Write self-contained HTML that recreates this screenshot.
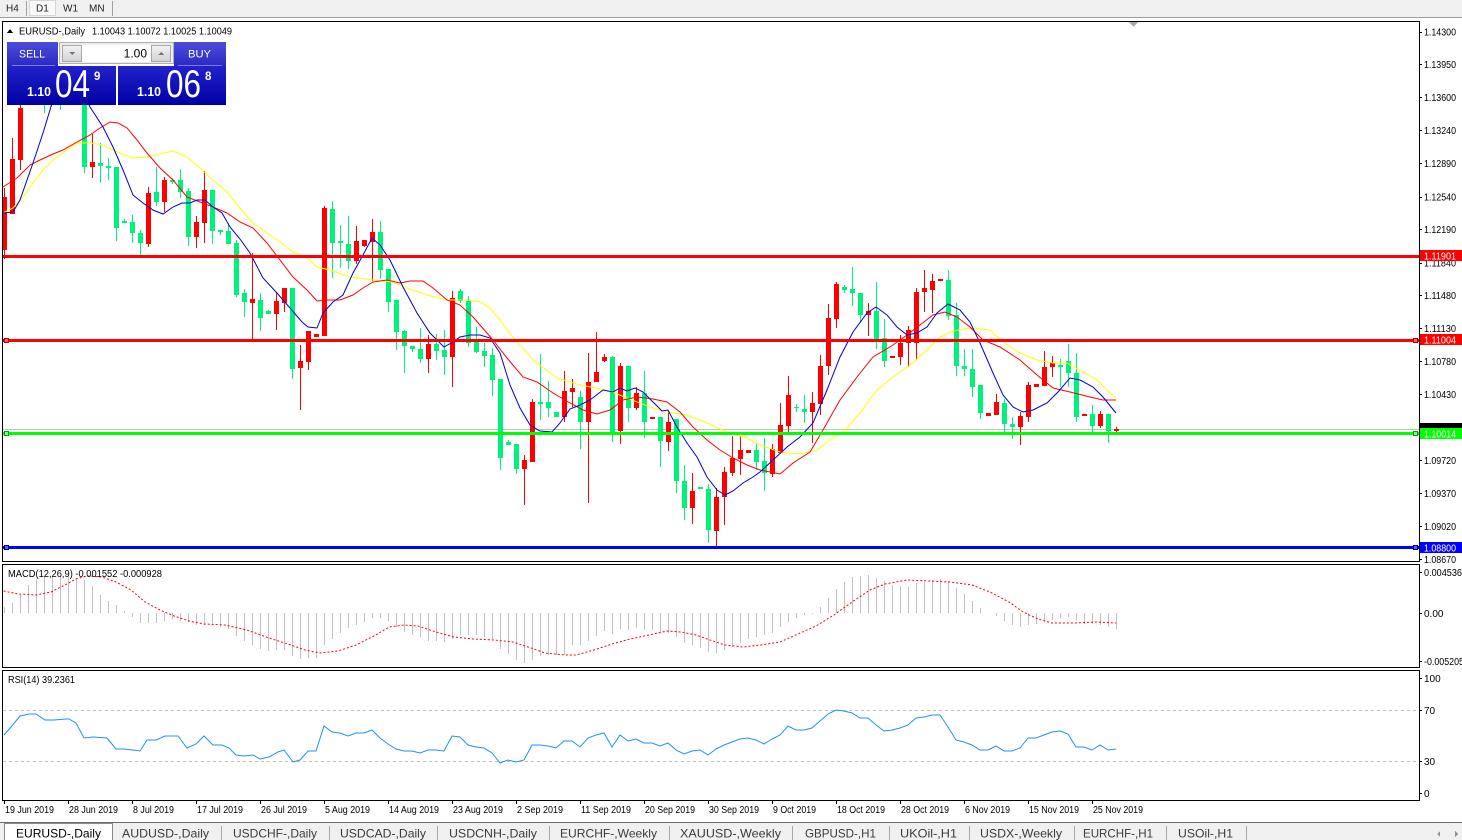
<!DOCTYPE html>
<html><head><meta charset="utf-8"><style>
html,body{margin:0;padding:0;width:1462px;height:840px;overflow:hidden;background:#fff}
svg{display:block}
</style></head><body>
<svg width="1462" height="840" viewBox="0 0 1462 840" xmlns="http://www.w3.org/2000/svg" font-family="'Liberation Sans', Arial, sans-serif" shape-rendering="crispEdges">
<defs>
<linearGradient id="gUp" x1="0" y1="0" x2="0" y2="1"><stop offset="0" stop-color="#4c4cdc"/><stop offset="1" stop-color="#2a2ac4"/></linearGradient>
<linearGradient id="gLo" x1="0" y1="0" x2="0" y2="1"><stop offset="0" stop-color="#2222cc"/><stop offset="1" stop-color="#0000a2"/></linearGradient>
<linearGradient id="gBtn" x1="0" y1="0" x2="0" y2="1"><stop offset="0" stop-color="#f2f2f2"/><stop offset="1" stop-color="#d2d2d2"/></linearGradient>
</defs>
<rect width="1462" height="840" fill="#fff"/>
<!-- toolbar -->
<rect x="0" y="0" width="1462" height="17" fill="#f0f0f0"/>
<line x1="0" y1="17.5" x2="1462" y2="17.5" stroke="#a0a0a0"/>
<rect x="29.5" y="0.5" width="26" height="15" fill="#f8f8f8" stroke="#b8b8b8" stroke-dasharray="1 1"/>
<line x1="26.5" y1="1" x2="26.5" y2="16" stroke="#a0a0a0"/>
<line x1="112.5" y1="1" x2="112.5" y2="16" stroke="#a0a0a0"/>
<g font-size="10" fill="#222">
<text x="6" y="11.5">H4</text><text x="36" y="11.5">D1</text><text x="63" y="11.5">W1</text><text x="89" y="11.5">MN</text>
</g>

<!-- horizontal current price line -->
<line x1="3" y1="429.5" x2="1419" y2="429.5" stroke="#c0c0c0"/>

<!-- candles -->
<path fill="none" stroke="#ff0000" stroke-width="1" d="M4.5 188V259M12.5 138V214M20.5 100V170M28.5 72V104M52.5 72V104M68.5 72V100M92.5 134V178M148.5 187V247M164.5 177V212M196.5 216V248M204.5 171V243M252.5 253V339M276.5 293V330M284.5 288V312M300.5 345V410M308.5 331V370M316.5 334V337M324.5 206V336M356.5 226V264M364.5 240V247M372.5 219V281M428.5 335V373M452.5 291V387M524.5 455V505M532.5 399V462M564.5 371V422M572.5 379V407M588.5 353V503M596.5 332V382M604.5 354V362M620.5 363V444M636.5 387V410M652.5 417V419M668.5 411V451M692.5 473V524M716.5 488V547M724.5 467V525M732.5 436V476M740.5 436V475M748.5 450V453M772.5 444V477M780.5 403V454M788.5 376V432M812.5 392V443M820.5 355V415M828.5 304V375M836.5 282V328M868.5 303V336M892.5 356V358M900.5 335V365M908.5 326V367M916.5 288V360M924.5 270V312M932.5 274V313M940.5 279V281M988.5 413V416M996.5 394V415M1020.5 412V445M1028.5 382V422M1036.5 384V387M1044.5 351V386M1052.5 356V377M1084.5 414V416M1100.5 411V428M1116.5 427V432"/>
<path fill="#ff0000" d="M2 197h5V250h-5ZM10 159h5V214h-5ZM18 108h5V160h-5ZM26 78h5V104h-5ZM50 76h5V100h-5ZM66 74h5V90h-5ZM90 162h5V167h-5ZM146 193h5V244h-5ZM162 180h5V202h-5ZM194 222h5V237h-5ZM202 190h5V223h-5ZM250 299h5V303h-5ZM274 301h5V314h-5ZM282 288h5V303h-5ZM298 361h5V368h-5ZM306 331h5V362h-5ZM314 334h5V337h-5ZM322 208h5V336h-5ZM354 241h5V261h-5ZM362 240h5V246h-5ZM370 232h5V242h-5ZM426 344h5V359h-5ZM450 298h5V357h-5ZM522 460h5V469h-5ZM530 402h5V462h-5ZM562 391h5V417h-5ZM570 388h5V392h-5ZM586 382h5V422h-5ZM594 372h5V382h-5ZM602 357h5V361h-5ZM618 366h5V431h-5ZM634 393h5V408h-5ZM650 417h5V419h-5ZM666 422h5V442h-5ZM690 491h5V508h-5ZM714 497h5V531h-5ZM722 472h5V497h-5ZM730 458h5V473h-5ZM738 450h5V459h-5ZM746 450h5V453h-5ZM770 449h5V474h-5ZM778 425h5V453h-5ZM786 395h5V426h-5ZM810 403h5V412h-5ZM818 366h5V404h-5ZM826 318h5V366h-5ZM834 284h5V319h-5ZM866 311h5V315h-5ZM890 356h5V358h-5ZM898 343h5V357h-5ZM906 330h5V343h-5ZM914 292h5V343h-5ZM922 288h5V292h-5ZM930 281h5V290h-5ZM938 279h5V281h-5ZM986 413h5V416h-5ZM994 402h5V415h-5ZM1018 416h5V427h-5ZM1026 385h5V417h-5ZM1034 384h5V387h-5ZM1042 367h5V386h-5ZM1050 363h5V367h-5ZM1082 414h5V416h-5ZM1098 414h5V426h-5ZM1114 429h5V431h-5Z"/>
<path fill="none" stroke="#00f07c" stroke-width="1" d="M36.5 72V95M44.5 72V113M60.5 72V110M76.5 72V104M84.5 95V173M100.5 143V183M108.5 158V180M116.5 167V241M124.5 219V223M132.5 215V243M140.5 230V255M156.5 167V206M172.5 178V184M180.5 169V198M188.5 188V246M212.5 190V244M220.5 230V235M228.5 223V244M236.5 240V297M244.5 289V317M260.5 293V331M268.5 310V314M292.5 288V379M332.5 201V278M340.5 225V268M348.5 216V269M380.5 221V279M388.5 269V312M396.5 300V350M404.5 330V373M412.5 346V352M420.5 328V363M436.5 334V360M444.5 330V375M460.5 289V303M468.5 296V347M476.5 327V353M484.5 343V367M492.5 348V396M500.5 379V470M508.5 440V445M516.5 444V474M540.5 354V420M548.5 381V417M556.5 412V417M580.5 391V449M612.5 356V442M628.5 366V422M644.5 371V438M660.5 417V467M676.5 419V493M684.5 465V520M700.5 487V489M708.5 484V543M756.5 443V470M764.5 438V491M796.5 404V412M804.5 395V423M844.5 285V293M852.5 267V306M860.5 293V323M876.5 282V349M884.5 319V367M948.5 270V320M956.5 303V376M964.5 349V376M972.5 349V397M980.5 385V419M1004.5 399V432M1012.5 417V439M1060.5 359V387M1068.5 344V387M1076.5 353V422M1092.5 405V432M1108.5 414V443"/>
<path fill="#00f07c" d="M34 74h5V85h-5ZM42 80h5V100h-5ZM58 76h5V95h-5ZM74 76h5V100h-5ZM82 100h5V167h-5ZM98 163h5V166h-5ZM106 166h5V168h-5ZM114 167h5V228h-5ZM122 221h5V223h-5ZM130 222h5V233h-5ZM138 233h5V243h-5ZM154 192h5V202h-5ZM170 180h5V182h-5ZM178 180h5V192h-5ZM186 191h5V237h-5ZM210 190h5V231h-5ZM218 230h5V232h-5ZM226 231h5V244h-5ZM234 243h5V295h-5ZM242 293h5V302h-5ZM258 300h5V318h-5ZM266 311h5V314h-5ZM290 288h5V369h-5ZM330 209h5V243h-5ZM338 241h5V243h-5ZM346 244h5V261h-5ZM378 232h5V270h-5ZM386 269h5V302h-5ZM394 300h5V332h-5ZM402 331h5V346h-5ZM410 346h5V349h-5ZM418 349h5V359h-5ZM434 344h5V351h-5ZM442 350h5V357h-5ZM458 291h5V301h-5ZM466 301h5V343h-5ZM474 342h5V352h-5ZM482 351h5V356h-5ZM490 355h5V380h-5ZM498 379h5V458h-5ZM506 442h5V445h-5ZM514 444h5V469h-5ZM538 402h5V404h-5ZM546 402h5V408h-5ZM554 412h5V417h-5ZM578 397h5V422h-5ZM610 357h5V433h-5ZM626 366h5V408h-5ZM642 393h5V422h-5ZM658 417h5V441h-5ZM674 419h5V481h-5ZM682 481h5V508h-5ZM698 487h5V489h-5ZM706 489h5V530h-5ZM754 450h5V462h-5ZM762 461h5V473h-5ZM794 407h5V408h-5ZM802 409h5V412h-5ZM842 287h5V290h-5ZM850 289h5V293h-5ZM858 293h5V315h-5ZM874 311h5V339h-5ZM882 338h5V361h-5ZM946 280h5V316h-5ZM954 315h5V366h-5ZM962 366h5V369h-5ZM970 369h5V387h-5ZM978 385h5V413h-5ZM1002 403h5V424h-5ZM1010 424h5V427h-5ZM1058 365h5V367h-5ZM1066 361h5V373h-5ZM1074 373h5V417h-5ZM1090 414h5V426h-5ZM1106 414h5V431h-5Z"/>

<!-- moving averages -->
<g fill="none" stroke-width="1" shape-rendering="auto">
<polyline stroke="#ffff00" points="3,213 13,208 23,197 33,183 43,170 53,160 67,150 77,143 90,143 103,145 117,152 133,158 147,157 160,154 173,151 187,157 200,168 213,180 227,192 240,208 253,223 267,233 280,242 293,252 307,258 317,267 330,270 350,277 373,280 393,282 407,288 427,295 447,300 467,300 480,302 490,308 500,320 513,337 533,360 557,378 580,385 607,390 627,398 650,407 667,412 687,415 707,423 727,432 747,438 760,445 780,452 800,454 817,450 830,440 847,428 860,413 877,390 893,377 910,365 927,350 940,337 953,331 970,328 990,330 1003,342 1020,353 1037,360 1053,363 1067,363 1080,370 1097,380 1110,393 1116,398"/>
<polyline stroke="#ff0000" points="3,187 17,178 30,165 40,160 53,154 63,150 77,142 90,135 100,128 110,122 118,123 127,128 137,140 147,153 160,168 173,180 187,197 200,202 213,207 227,213 240,222 253,228 267,243 280,260 293,277 307,290 317,301 327,300 340,300 353,295 363,288 373,282 387,280 400,283 410,281 423,281 433,288 447,300 460,305 473,317 480,325 493,340 507,358 523,377 537,382 553,393 570,403 583,410 597,414 610,410 623,400 637,397 653,399 667,402 680,412 693,427 707,440 720,450 733,458 747,465 760,470 780,474 793,463 810,452 823,430 840,400 857,377 873,357 893,345 907,335 920,325 933,315 945,312 957,317 970,327 983,340 1000,347 1020,360 1037,375 1053,388 1070,392 1090,397 1103,400 1116,400"/>
<polyline stroke="#0000d0" points="3,213 13,212 20,200 33,163 43,133 53,100 62,84 72,82 82,90 90,107 103,127 113,147 123,170 133,195 143,203 153,210 163,214 173,207 182,203 190,203 197,200 205,200 213,207 222,213 230,227 240,239 250,253 263,278 277,293 290,308 302,322 308,327 317,328 323,313 333,302 343,295 353,273 363,255 372,238 380,245 390,260 403,287 417,313 430,333 444,347 453,342 460,337 470,335 480,335 490,338 500,353 510,385 520,408 530,425 540,431 552,432 560,423 570,409 580,405 590,400 603,390 613,392 620,388 627,391 635,388 643,392 653,402 662,411 668,410 677,427 687,443 697,457 707,477 717,490 725,495 733,491 743,483 753,477 760,472 773,460 787,447 800,437 813,423 827,390 840,357 853,332 867,313 876,307 887,315 897,327 907,335 917,333 927,327 937,313 948,304 960,310 970,322 980,343 993,373 1003,395 1013,407 1023,412 1033,410 1047,403 1058,392 1070,378 1080,380 1093,387 1103,397 1116,413"/>
</g>

<!-- level lines -->
<rect x="3" y="255" width="1416" height="3" fill="#ff0000"/>
<rect x="3" y="339" width="1416" height="3" fill="#ff0000"/>
<rect x="3" y="432" width="1416" height="3" fill="#00ff00"/>
<rect x="3" y="546" width="1416" height="3" fill="#0000ff"/>
<g stroke-width="1">
<rect x="4.5" y="338.5" width="4" height="4" fill="#ff6060" stroke="#c00000"/>
<rect x="1413.5" y="338.5" width="4" height="4" fill="#ff6060" stroke="#c00000"/>
<rect x="4.5" y="431.5" width="4" height="4" fill="#80ff80" stroke="#00a000"/>
<rect x="1413.5" y="431.5" width="4" height="4" fill="#80ff80" stroke="#00a000"/>
<rect x="4.5" y="545.5" width="4" height="4" fill="#6060ff" stroke="#0000a0"/>
<rect x="1413.5" y="545.5" width="4" height="4" fill="#6060ff" stroke="#0000a0"/>
</g>

<!-- MACD -->
<path fill="none" stroke="#c0c0c0" d="M4.5 613V607M12.5 613V603M20.5 613V595M28.5 613V585M36.5 613V579M44.5 613V577M52.5 613V576M60.5 613V576M68.5 613V577M76.5 613V578M84.5 613V580M92.5 613V586M100.5 613V595M108.5 613V601M116.5 613V605M124.5 613V611M132.5 613V617M140.5 613V623M148.5 613V623M156.5 613V623M164.5 613V621M172.5 613V619M180.5 613V621M188.5 613V622M196.5 613V625M204.5 613V625M212.5 613V625M220.5 613V627M228.5 613V629M236.5 613V636M244.5 613V641M252.5 613V645M260.5 613V649M268.5 613V651M276.5 613V650M284.5 613V650M292.5 613V656M300.5 613V659M308.5 613V658M316.5 613V658M324.5 613V645M332.5 613V639M340.5 613V633M348.5 613V628M356.5 613V625M364.5 613V622M372.5 613V618M380.5 613V618M388.5 613V621M396.5 613V627M404.5 613V632M412.5 613V635M420.5 613V637M428.5 613V641M436.5 613V641M444.5 613V642M452.5 613V639M460.5 613V635M468.5 613V635M476.5 613V635M484.5 613V637M492.5 613V639M500.5 613V649M508.5 613V654M516.5 613V660M524.5 613V663M532.5 613V660M540.5 613V656M548.5 613V655M556.5 613V655M564.5 613V655M572.5 613V645M580.5 613V645M588.5 613V641M596.5 613V636M604.5 613V631M612.5 613V634M620.5 613V629M628.5 613V630M636.5 613V628M644.5 613V630M652.5 613V630M660.5 613V632M668.5 613V633M676.5 613V637M684.5 613V643M692.5 613V645M700.5 613V648M708.5 613V652M716.5 613V653M724.5 613V650M732.5 613V647M740.5 613V643M748.5 613V639M756.5 613V637M764.5 613V635M772.5 613V633M780.5 613V627M788.5 613V622M796.5 613V618M804.5 613V615M812.5 613V614M820.5 613V607M828.5 613V598M836.5 613V589M844.5 613V582M852.5 613V577M860.5 613V576M868.5 613V575M876.5 613V578M884.5 613V581M892.5 613V585M900.5 613V586M908.5 613V587M916.5 613V583M924.5 613V582M932.5 613V580M940.5 613V579M948.5 613V581M956.5 613V588M964.5 613V594M972.5 613V601M980.5 613V608M996.5 613V616M1004.5 613V621M1012.5 613V625M1020.5 613V627M1028.5 613V625M1036.5 613V624M1044.5 613V622M1052.5 613V620M1060.5 613V618M1068.5 613V617M1076.5 613V620M1084.5 613V624M1092.5 613V624M1100.5 613V625M1108.5 613V627M1116.5 613V629"/>
<polyline fill="none" stroke="#ff0000" stroke-dasharray="2 2" shape-rendering="auto" points="3.6,591 18,594 36,595 51,592 65,585 76,579 87,576 102,577 116,582 131,590 145,602 160,610 174,616 189,621 204,624 225,625 247,630 269,638 291,645 305,650 320,653 338,651 356,645 374,636 389,627 404,625 418,626 436,632 454,637 473,639 494,640 513,642 531,648 545,653 565,655 576,655 594,650 612,644 630,639 649,635 667,631 681,632 696,635 710,640 725,645 743,647 761,645 780,642 798,634 816,626 834,615 852,602 870,590 885,584 907,580 929,581 950,582 972,585 990,592 1009,602 1023,612 1038,619 1052,623 1074,623 1096,622 1116,623"/>

<!-- RSI -->
<line x1="3" y1="710.5" x2="1419" y2="710.5" stroke="#c0c0c0" stroke-dasharray="3 3"/>
<line x1="3" y1="761.5" x2="1419" y2="761.5" stroke="#c0c0c0" stroke-dasharray="3 3"/>
<polyline fill="none" stroke="#1e90ff" shape-rendering="auto" points="4,735 11,727 20,716 29,714 36,714 45,720 54,720 66,719 69,719 76,723 84,738 93,737 107,738 116,749 124,749 133,750 140,751 147,740 156,740 165,736 178,736 187,748 196,744 204,736 213,745 222,745 229,748 236,755 244,756 253,755 260,759 269,757 278,752 284,750 293,762 300,760 308,751 316,751 324,726 332,732 340,733 348,736 356,733 364,733 372,730 380,738 388,744 396,749 404,751 412,751 420,753 428,750 436,750 444,751 452,736 460,737 468,745 476,747 484,748 492,753 500,763 508,760 516,762 524,760 532,745 540,745 548,746 556,748 564,741 572,741 580,747 588,738 596,735 604,733 612,747 620,735 628,741 636,739 644,743 652,743 660,746 668,743 676,750 684,754 692,751 700,750 708,755 716,749 724,745 732,742 740,739 748,738 756,740 764,744 772,739 780,735 788,726 796,730 804,730 812,728 820,721 828,714 836,710 844,711 852,713 860,718 868,718 876,725 884,731 892,730 900,728 908,725 916,718 924,717 932,715 940,715 948,727 956,740 964,742 972,745 980,750 988,750 996,746 1004,751 1012,751 1020,748 1028,738 1036,738 1044,735 1052,732 1060,731 1068,734 1076,747 1084,747 1092,750 1100,745 1108,750 1116,749"/>

<!-- frames -->
<g fill="none" stroke="#000">
<rect x="2.5" y="21.5" width="1417" height="540"/>
<rect x="2.5" y="564.5" width="1417" height="103"/>
<rect x="2.5" y="670.5" width="1417" height="130"/>
</g>
<polygon points="1129,22 1138,22 1133.5,27" fill="#a8a8a8"/>

<!-- title -->
<polygon points="7,33 13,33 10,29" fill="#000"/>
<text x="19" y="34.5" font-size="10" fill="#000" textLength="66" lengthAdjust="spacingAndGlyphs">EURUSD-,Daily</text>
<text x="92" y="34.5" font-size="10" fill="#000" textLength="140" lengthAdjust="spacingAndGlyphs">1.10043 1.10072 1.10025 1.10049</text>

<!-- trade panel -->
<rect x="7" y="42" width="51" height="24" fill="url(#gUp)"/>
<line x1="12" y1="65.5" x2="55" y2="65.5" stroke="#7a7ae8"/>
<rect x="174" y="42" width="52" height="24" fill="url(#gUp)"/>
<line x1="178" y1="65.5" x2="222" y2="65.5" stroke="#7a7ae8"/>
<rect x="58" y="42" width="116" height="24" fill="#fff"/>
<rect x="59.5" y="42.5" width="114" height="21" fill="#ececec" stroke="#b0b0b0"/>
<rect x="62.5" y="45.5" width="19" height="16" fill="url(#gBtn)" stroke="#a8a8a8"/>
<rect x="151.5" y="45.5" width="19" height="16" fill="url(#gBtn)" stroke="#a8a8a8"/>
<rect x="82" y="45" width="69" height="17" fill="#fff"/>
<polygon points="69,52 75,52 72,55" fill="#707090"/>
<polygon points="158,55 164,55 161,52" fill="#707090"/>
<rect x="7" y="66" width="109" height="39" fill="url(#gLo)"/>
<rect x="118" y="66" width="108" height="39" fill="url(#gLo)"/>
<g fill="#fff">
<text x="19" y="57.5" font-size="11" textLength="26" lengthAdjust="spacingAndGlyphs">SELL</text>
<text x="188" y="57.5" font-size="11" textLength="23" lengthAdjust="spacingAndGlyphs">BUY</text>
<text x="27" y="96" font-size="12.5" font-weight="bold" textLength="24" lengthAdjust="spacingAndGlyphs">1.10</text>
<text x="55" y="97" font-size="39" textLength="35" lengthAdjust="spacingAndGlyphs">04</text>
<text x="94" y="80" font-size="11.5" font-weight="bold">9</text>
<text x="137" y="96" font-size="12.5" font-weight="bold" textLength="24" lengthAdjust="spacingAndGlyphs">1.10</text>
<text x="166" y="97" font-size="39" textLength="35" lengthAdjust="spacingAndGlyphs">06</text>
<text x="205" y="80" font-size="11.5" font-weight="bold">8</text>
</g>
<text x="147" y="57.5" font-size="12" fill="#000" text-anchor="end">1.00</text>

<!-- price axis -->
<g stroke="#000">
<path d="M1419 32.5h3M1419 64.5h3M1419 97.5h3M1419 130.5h3M1419 163.5h3M1419 197.5h3M1419 229.5h3M1419 263.5h3M1419 295.5h3M1419 328.5h3M1419 361.5h3M1419 394.5h3M1419 460.5h3M1419 493.5h3M1419 526.5h3M1419 559.5h3M1419 572.5h3M1419 613.5h3M1419 661.5h3M1419 678.5h3M1419 710.5h3M1419 761.5h3M1419 793.5h3"/>
</g>
<g font-size="10" fill="#000">
<text x="1424" y="35.5" textLength="32" lengthAdjust="spacingAndGlyphs">1.14300</text>
<text x="1424" y="68" textLength="32" lengthAdjust="spacingAndGlyphs">1.13950</text>
<text x="1424" y="101" textLength="32" lengthAdjust="spacingAndGlyphs">1.13600</text>
<text x="1424" y="134" textLength="32" lengthAdjust="spacingAndGlyphs">1.13240</text>
<text x="1424" y="167" textLength="32" lengthAdjust="spacingAndGlyphs">1.12890</text>
<text x="1424" y="200.5" textLength="32" lengthAdjust="spacingAndGlyphs">1.12540</text>
<text x="1424" y="233" textLength="32" lengthAdjust="spacingAndGlyphs">1.12190</text>
<text x="1424" y="266.5" textLength="32" lengthAdjust="spacingAndGlyphs">1.11840</text>
<text x="1424" y="299" textLength="32" lengthAdjust="spacingAndGlyphs">1.11480</text>
<text x="1424" y="332" textLength="32" lengthAdjust="spacingAndGlyphs">1.11130</text>
<text x="1424" y="365" textLength="32" lengthAdjust="spacingAndGlyphs">1.10780</text>
<text x="1424" y="398" textLength="32" lengthAdjust="spacingAndGlyphs">1.10430</text>
<text x="1424" y="464" textLength="32" lengthAdjust="spacingAndGlyphs">1.09720</text>
<text x="1424" y="497" textLength="32" lengthAdjust="spacingAndGlyphs">1.09370</text>
<text x="1424" y="530" textLength="32" lengthAdjust="spacingAndGlyphs">1.09020</text>
<text x="1424" y="563" textLength="32" lengthAdjust="spacingAndGlyphs">1.08670</text>
<text x="1424" y="576" textLength="38" lengthAdjust="spacingAndGlyphs">0.004536</text>
<text x="1424" y="617">0.00</text>
<text x="1424" y="665" textLength="40" lengthAdjust="spacingAndGlyphs">-0.005205</text>
<text x="1424" y="682">100</text>
<text x="1424" y="714">70</text>
<text x="1424" y="765">30</text>
<text x="1424" y="797">0</text>
</g>
<!-- level labels -->
<rect x="1420" y="250" width="42" height="11" fill="#ff0000"/>
<rect x="1420" y="334" width="42" height="11" fill="#ff0000"/>
<rect x="1420" y="423" width="42" height="6" fill="#000"/>
<rect x="1420" y="428" width="42" height="11" fill="#00ff00"/>
<rect x="1420" y="542" width="42" height="11" fill="#0000ff"/>
<g font-size="10" fill="#fff">
<text x="1424" y="259.5" textLength="32" lengthAdjust="spacingAndGlyphs">1.11901</text>
<text x="1424" y="343.5" textLength="32" lengthAdjust="spacingAndGlyphs">1.11004</text>
<text x="1424" y="437.5" textLength="32" lengthAdjust="spacingAndGlyphs">1.10014</text>
<text x="1424" y="551.5" textLength="32" lengthAdjust="spacingAndGlyphs">1.08800</text>
</g>

<!-- indicator labels -->
<text x="8" y="577" font-size="10" fill="#000" textLength="154" lengthAdjust="spacingAndGlyphs">MACD(12,26,9) -0.001552 -0.000928</text>
<text x="8" y="683" font-size="10" fill="#000" textLength="67" lengthAdjust="spacingAndGlyphs">RSI(14) 39.2361</text>

<!-- date axis -->
<path stroke="#000" d="M4.5 800v4M68.5 800v4M132.5 800v4M196.5 800v4M260.5 800v4M324.5 800v4M388.5 800v4M452.5 800v4M516.5 800v4M580.5 800v4M644.5 800v4M708.5 800v4M772.5 800v4M836.5 800v4M900.5 800v4M964.5 800v4M1028.5 800v4M1092.5 800v4"/>
<g font-size="10" fill="#000">
<text x="5" y="813" textLength="49" lengthAdjust="spacingAndGlyphs">19 Jun 2019</text>
<text x="69" y="813" textLength="49" lengthAdjust="spacingAndGlyphs">28 Jun 2019</text>
<text x="133" y="813" textLength="41" lengthAdjust="spacingAndGlyphs">8 Jul 2019</text>
<text x="197" y="813" textLength="46" lengthAdjust="spacingAndGlyphs">17 Jul 2019</text>
<text x="261" y="813" textLength="46" lengthAdjust="spacingAndGlyphs">26 Jul 2019</text>
<text x="325" y="813" textLength="45" lengthAdjust="spacingAndGlyphs">5 Aug 2019</text>
<text x="389" y="813" textLength="50" lengthAdjust="spacingAndGlyphs">14 Aug 2019</text>
<text x="453" y="813" textLength="50" lengthAdjust="spacingAndGlyphs">23 Aug 2019</text>
<text x="517" y="813" textLength="46" lengthAdjust="spacingAndGlyphs">2 Sep 2019</text>
<text x="581" y="813" textLength="50" lengthAdjust="spacingAndGlyphs">11 Sep 2019</text>
<text x="645" y="813" textLength="50" lengthAdjust="spacingAndGlyphs">20 Sep 2019</text>
<text x="709" y="813" textLength="50" lengthAdjust="spacingAndGlyphs">30 Sep 2019</text>
<text x="773" y="813" textLength="43" lengthAdjust="spacingAndGlyphs">9 Oct 2019</text>
<text x="837" y="813" textLength="48" lengthAdjust="spacingAndGlyphs">18 Oct 2019</text>
<text x="901" y="813" textLength="48" lengthAdjust="spacingAndGlyphs">28 Oct 2019</text>
<text x="965" y="813" textLength="45" lengthAdjust="spacingAndGlyphs">6 Nov 2019</text>
<text x="1029" y="813" textLength="50" lengthAdjust="spacingAndGlyphs">15 Nov 2019</text>
<text x="1093" y="813" textLength="50" lengthAdjust="spacingAndGlyphs">25 Nov 2019</text>
</g>

<!-- tabs -->
<rect x="0" y="822" width="1462" height="18" fill="#f0f0f0"/>
<line x1="0" y1="822.5" x2="1462" y2="822.5" stroke="#6a6a6a"/>
<rect x="4.5" y="823.5" width="108" height="17" fill="#fff" stroke="#8a8a8a"/>
<path stroke="#a8a8a8" d="M221.5 826v14M329.5 826v14M437.5 826v14M549.5 826v14M669.5 826v14M792.5 826v14M889.5 826v14M969.5 826v14M1074.5 826v14M1166.5 826v14M1246.5 826v14"/>
<text x="16" y="837.5" font-size="12" fill="#000" textLength="85" lengthAdjust="spacingAndGlyphs">EURUSD-,Daily</text>
<g font-size="12" fill="#3a3a3a">
<text x="122" y="837.5" textLength="87" lengthAdjust="spacingAndGlyphs">AUDUSD-,Daily</text>
<text x="233" y="837.5" textLength="84" lengthAdjust="spacingAndGlyphs">USDCHF-,Daily</text>
<text x="340" y="837.5" textLength="86" lengthAdjust="spacingAndGlyphs">USDCAD-,Daily</text>
<text x="449" y="837.5" textLength="88" lengthAdjust="spacingAndGlyphs">USDCNH-,Daily</text>
<text x="560" y="837.5" textLength="97" lengthAdjust="spacingAndGlyphs">EURCHF-,Weekly</text>
<text x="680" y="837.5" textLength="101" lengthAdjust="spacingAndGlyphs">XAUUSD-,Weekly</text>
<text x="805" y="837.5" textLength="71" lengthAdjust="spacingAndGlyphs">GBPUSD-,H1</text>
<text x="900" y="837.5" textLength="57" lengthAdjust="spacingAndGlyphs">UKOil-,H1</text>
<text x="980" y="837.5" textLength="82" lengthAdjust="spacingAndGlyphs">USDX-,Weekly</text>
<text x="1083" y="837.5" textLength="70" lengthAdjust="spacingAndGlyphs">EURCHF-,H1</text>
<text x="1178" y="837.5" textLength="55" lengthAdjust="spacingAndGlyphs">USOil-,H1</text>
</g>
<polygon points="1440,831 1437,834 1440,837" fill="#909090"/>
<polygon points="1455,831 1458,834 1455,837" fill="#909090"/>
</svg>
</body></html>
